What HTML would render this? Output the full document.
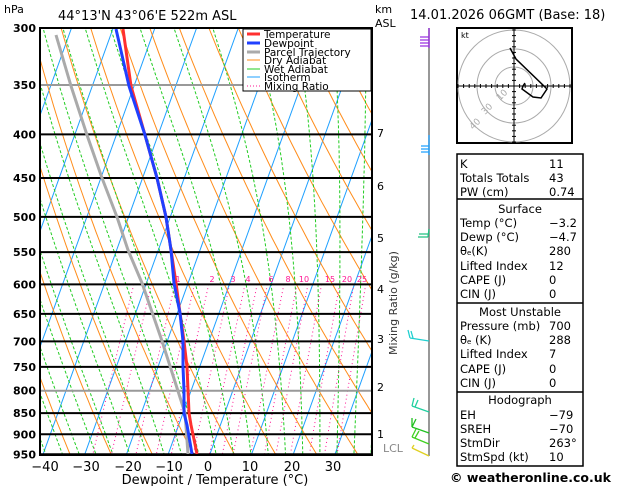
<!DOCTYPE html>
<html><head><meta charset="utf-8"><style>
body{margin:0;background:#fff;}
svg{display:block;font-family:"DejaVu Sans","Liberation Sans",sans-serif;}
</style></head><body>
<svg id="s" width="629" height="486" viewBox="0 0 629 486" xmlns="http://www.w3.org/2000/svg">
<defs><clipPath id="c"><rect x="40" y="28" width="332" height="427"/></clipPath></defs>
<rect width="629" height="486" fill="#fff"/>
<g id="bg" clip-path="url(#c)"></g>
<g id="hl"></g>
<g id="prof" clip-path="url(#c)" fill="none" stroke-linejoin="round">
<polyline stroke="#aaa" stroke-width="3" points="56,35 71,86 87,135 102,178 117,217 128,250 142,283 162,341 185,413 188,454"/>
<polyline stroke="#ff3030" stroke-width="3" points="123,29 131,86 145,135 157,178 166,217 171,250 176,283 180,313 184,341 187,367 188,390 189,413 191,425 197,454"/>
<polyline stroke="#2040ff" stroke-width="3" points="116,29 129,86 145,135 157,178 166,217 171,250 174,283 180,313 183,341 183,367 184,390 184,413 187,425 192,454"/>
</g>
<rect x="40" y="28" width="332" height="427" fill="none" stroke="#000" stroke-width="2"/>
<g font-size="11" font-weight="bold" text-anchor="end" id="pl"></g>
<text x="4" y="13" font-size="11">hPa</text>
<text x="58" y="20" font-size="13">44°13'N  43°06'E  522m  ASL</text>
<text x="375" y="13" font-size="11">km</text>
<text x="375" y="27" font-size="11">ASL</text>
<g font-size="11">
<text x="377" y="137">7</text><text x="377" y="190">6</text><text x="377" y="242">5</text>
<text x="377" y="293">4</text><text x="377" y="343">3</text><text x="377" y="391">2</text>
<text x="377" y="438">1</text><text x="383" y="452" fill="#888">LCL</text>
</g>
<g font-size="13" text-anchor="middle">
<text x="45" y="471">−40</text><text x="86" y="471">−30</text><text x="128" y="471">−20</text><text x="169" y="471">−10</text><text x="208" y="471">0</text><text x="250" y="471">10</text><text x="292" y="471">20</text><text x="333" y="471">30</text>
<text x="215" y="484">Dewpoint / Temperature (°C)</text>
</g>
<text transform="translate(397,355) rotate(-90)" font-size="11" fill="#333">Mixing Ratio (g/kg)</text>
<g font-size="8" fill="#ff1493" text-anchor="middle">
<text x="178" y="282">1</text><text x="212" y="282">2</text><text x="233" y="282">3</text><text x="248" y="282">4</text><text x="271" y="282">6</text><text x="288" y="282">8</text><text x="304" y="282">10</text><text x="330" y="282">15</text><text x="347" y="282">20</text><text x="362" y="282">25</text>
</g>
<!-- legend -->
<rect x="243" y="29" width="128" height="62" fill="#fff" stroke="#000"/>
<g font-size="10.5">
<line x1="247" y1="34" x2="260" y2="34" stroke="#ff3030" stroke-width="3"/><text x="264" y="38">Temperature</text>
<line x1="247" y1="43" x2="260" y2="43" stroke="#2040ff" stroke-width="3"/><text x="264" y="47">Dewpoint</text>
<line x1="247" y1="52" x2="260" y2="52" stroke="#aaa" stroke-width="3"/><text x="264" y="56">Parcel Trajectory</text>
<line x1="247" y1="60" x2="260" y2="60" stroke="#ff8c1a"/><text x="264" y="64">Dry Adiabat</text>
<line x1="247" y1="69" x2="260" y2="69" stroke="#22cc22"/><text x="264" y="73">Wet Adiabat</text>
<line x1="247" y1="77" x2="260" y2="77" stroke="#1ea0ff"/><text x="264" y="81">Isotherm</text>
<line x1="247" y1="86" x2="260" y2="86" stroke="#ff1493" stroke-dasharray="1,2"/><text x="264" y="90">Mixing Ratio</text>
</g>
<!-- right -->
<text x="410" y="19" font-size="13">14.01.2026  06GMT  (Base: 18)</text>
<line x1="429" y1="28" x2="429" y2="456" stroke="#777" stroke-width="1.5"/>
<g stroke-width="1.3" fill="none">
<path d="M429,28 V48 M429,37 H420 M429,40 H420 M429,43 H420 M429,46 H420" stroke="#9a30e0"/>
<path d="M429,135 V155 M429,146 H421 M429,149 H421 M429,152 H421" stroke="#1ea0ff"/>
<path d="M429,229 L428,237 M428,237 H418 M428,234 H419" stroke="#20c080"/>
<path d="M429,341 L410,338 M410,338 L408,330 M413,338 L411,331" stroke="#20d0d0"/>
<path d="M429,412 L412,406 M412,406 L414,398 M415,407 L418,400" stroke="#20d0a0"/>
<path d="M429,433 L412,427 M412,427 L416,419 M412,427 L412,418" stroke="#20c020"/>
<path d="M429,444 L412,437 M412,437 L416,429 M415,438 L419,431" stroke="#40d020"/>
<path d="M429,456 L412,448 M412,448 L414,445" stroke="#e0d020"/>
</g>
<!-- hodograph -->
<rect x="457" y="28" width="115" height="115" fill="#fff" stroke="#000" stroke-width="2"/>
<g fill="none" stroke="#aaa"><circle cx="514" cy="86" r="19"/><circle cx="514" cy="86" r="37"/><circle cx="514" cy="86" r="56"/></g>
<g stroke="#000"><line x1="457" y1="86" x2="572" y2="86"/><line x1="514" y1="28" x2="514" y2="143"/></g>
<g id="ht" stroke="#000"></g>
<text x="461" y="38" font-size="8">kt</text>
<g font-size="9" fill="#aaa"><text transform="translate(500,101) rotate(-45)">10</text><text transform="translate(485,115) rotate(-45)">30</text><text transform="translate(473,130) rotate(-45)">40</text></g>
<polyline fill="none" stroke="#000" stroke-width="1.5" points="510,48 516,59 547,89 541,98 533,97 522,89 523,86 525,83"/>
<!-- table -->
<rect x="457" y="154" width="126" height="312" fill="#fff" stroke="#000" stroke-width="1.5"/>
<g stroke="#000" stroke-width="1.5"><line x1="457" y1="199" x2="583" y2="199"/><line x1="457" y1="303" x2="583" y2="303"/><line x1="457" y1="392" x2="583" y2="392"/></g>
<g font-size="11.5">
<text x="460" y="168">K</text><text x="549" y="168">11</text>
<text x="460" y="182">Totals Totals</text><text x="549" y="182">43</text>
<text x="460" y="196">PW (cm)</text><text x="549" y="196">0.74</text>
<text x="520" y="213" text-anchor="middle">Surface</text>
<text x="460" y="227">Temp (°C)</text><text x="549" y="227">−3.2</text>
<text x="460" y="241">Dewp (°C)</text><text x="549" y="241">−4.7</text>
<text x="460" y="255">θ<tspan font-size="7">e</tspan>(K)</text><text x="549" y="255">280</text>
<text x="460" y="270">Lifted Index</text><text x="549" y="270">12</text>
<text x="460" y="284">CAPE (J)</text><text x="549" y="284">0</text>
<text x="460" y="298">CIN (J)</text><text x="549" y="298">0</text>
<text x="520" y="316" text-anchor="middle">Most Unstable</text>
<text x="460" y="330">Pressure (mb)</text><text x="549" y="330">700</text>
<text x="460" y="344">θ<tspan font-size="7">e</tspan> (K)</text><text x="549" y="344">288</text>
<text x="460" y="358">Lifted Index</text><text x="549" y="358">7</text>
<text x="460" y="373">CAPE (J)</text><text x="549" y="373">0</text>
<text x="460" y="387">CIN (J)</text><text x="549" y="387">0</text>
<text x="520" y="404" text-anchor="middle">Hodograph</text>
<text x="460" y="419">EH</text><text x="549" y="419">−79</text>
<text x="460" y="433">SREH</text><text x="549" y="433">−70</text>
<text x="460" y="447">StmDir</text><text x="549" y="447">263°</text>
<text x="460" y="461">StmSpd (kt)</text><text x="549" y="461">10</text>
</g>
<text x="450" y="482" font-size="12.5" font-weight="bold">© weatheronline.co.uk</text>
</svg>
<script>
var NS="http://www.w3.org/2000/svg";
function el(p,t,a){var e=document.createElementNS(NS,t);for(var k in a)e.setAttribute(k,a[k]);p.appendChild(e);return e;}
function Y(p){return 28+369.8*(Math.log(p)-Math.log(300));}
function X(T,p){return 210+4.17*T+0.36*(454-Y(p));}
var bg=document.getElementById('bg');
function line(fn,ps,st,dash,w){var pts=[];ps.forEach(function(p){var T=fn(p);if(T!==null)pts.push(X(T,p).toFixed(1)+','+Y(p).toFixed(1));});
 var a={points:pts.join(' '),fill:'none',stroke:st,'stroke-width':w||1};if(dash)a['stroke-dasharray']=dash;el(bg,'polyline',a);}
var P=[];for(var p=290;p<=960;p+=10)P.push(p);
for(var T=-120;T<=50;T+=10)line(function(){return T;},[290,960],'#1ea0ff');
for(var th=-40;th<=220;th+=10)(function(th){line(function(p){return (th+273.15)*Math.pow(p/1000,0.286)-273.15;},P,'#ff8c1a');})(th);
function es(T){return 6.112*Math.exp(17.67*T/(T+243.5));}
function moist(T,p){var Tk=T+273.15,e=es(T),r=0.622*e/(p-e),L=2.5e6;
 var num=(287*Tk+L*r),den=(1004+L*L*r*0.622/(287*Tk*Tk));return num/den/p;}
for(var tw=-40;tw<=44;tw+=4)(function(tw){var T=tw,p=1000,pts={};
 var out=[];pts[1000]=T;for(p=1000;p>290;p-=5){T-=moist(T,p)*5;out.push([p-5,T]);}
 var ps=[],ts={};out.forEach(function(o){ps.push(o[0]);ts[o[0]]=o[1];});ps.push(1000);ts[1000]=tw;
 ps.sort(function(a,b){return a-b;});line(function(p){return ts[p];},ps,'#22cc22','3,2');})(tw);
[0.4,0.6,1,1.5,2,3,4,5,6,8,10,12,15,20,25,30].forEach(function(w){
 line(function(p){var e=w*p/(622+w),l=Math.log(e/6.112);return 243.5*l/(17.67-l);},[600,700,800,900,960],'#ff1493','1,3');});
var hl=document.getElementById('hl'),pl=document.getElementById('pl');
[300,350,400,450,500,550,600,650,700,750,800,850,900,950].forEach(function(p){
 var g=(p==350||p==800);el(hl,'line',{x1:40,x2:372,y1:Y(p),y2:Y(p),stroke:g?'#999':'#000','stroke-width':2});
 var t=el(pl,'text',{x:36,y:Y(p)+4});t.textContent=p;});
var ht=document.getElementById('ht');
for(var i=-10;i<=10;i++){if(!i)continue;el(ht,'line',{x1:514+i*5.6,x2:514+i*5.6,y1:84,y2:88});el(ht,'line',{y1:86+i*5.6,y2:86+i*5.6,x1:512,x2:516});}
</script>
</body></html>
